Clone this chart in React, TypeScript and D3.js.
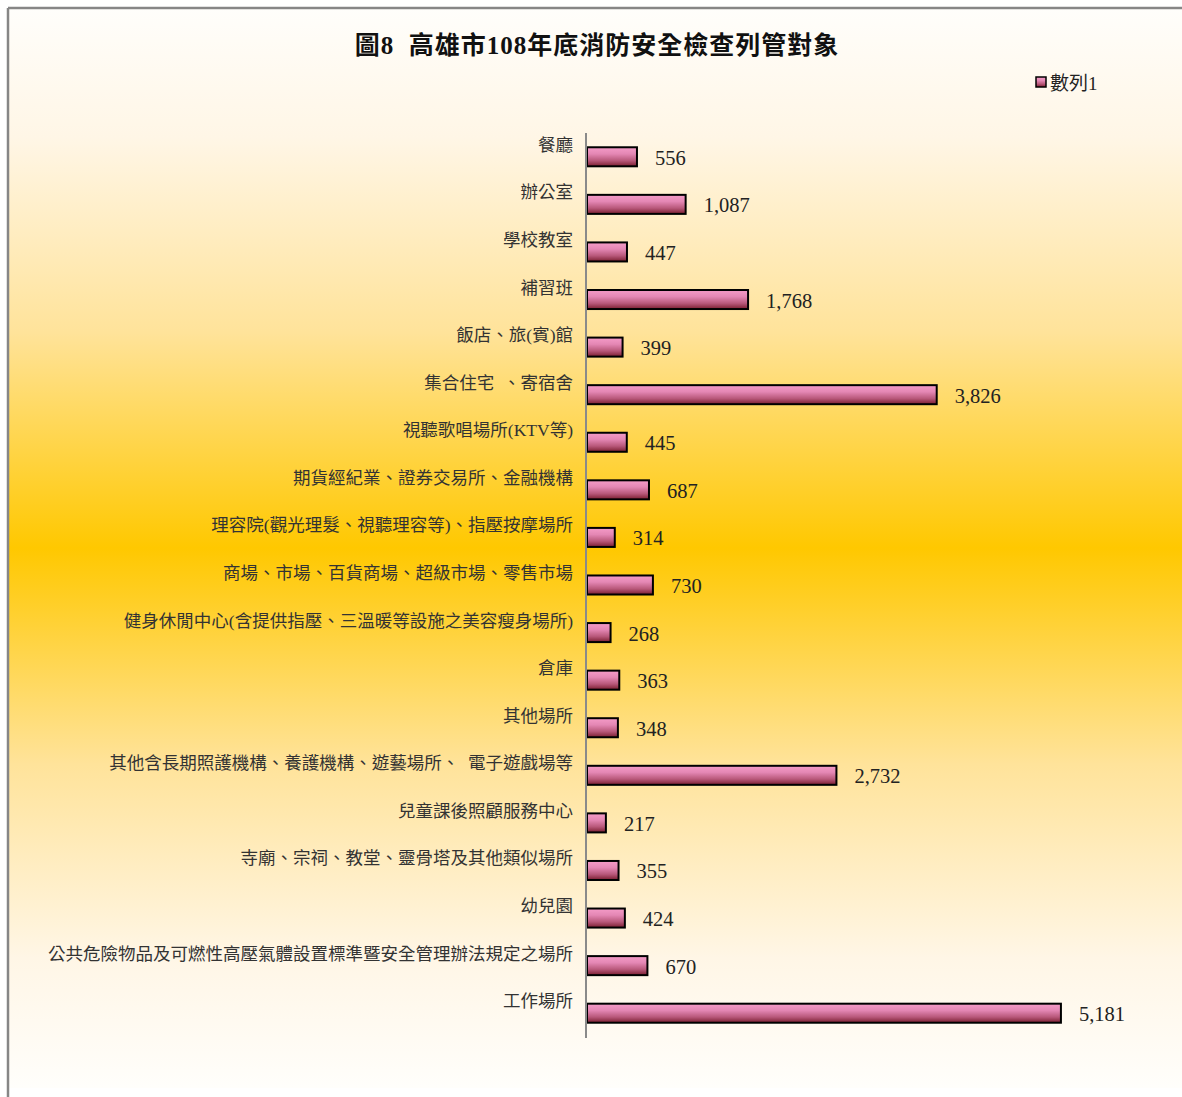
import React from "react";
import * as d3 from "d3";

const categories: string[] = [
  "餐廳",
  "辦公室",
  "學校教室",
  "補習班",
  "飯店、旅(賓)館",
  "集合住宅  、寄宿舍",
  "視聽歌唱場所(KTV等)",
  "期貨經紀業、證券交易所、金融機構",
  "理容院(觀光理髮、視聽理容等)、指壓按摩場所",
  "商場、市場、百貨商場、超級市場、零售市場",
  "健身休閒中心(含提供指壓、三溫暖等設施之美容瘦身場所)",
  "倉庫",
  "其他場所",
  "其他含長期照護機構、養護機構、遊藝場所、  電子遊戲場等",
  "兒童課後照顧服務中心",
  "寺廟、宗祠、教堂、靈骨塔及其他類似場所",
  "幼兒園",
  "公共危險物品及可燃性高壓氣體設置標準暨安全管理辦法規定之場所",
  "工作場所",
];

const values: number[] = [
  556, 1087, 447, 1768, 399, 3826, 445, 687, 314, 730, 268, 363, 348, 2732, 217, 355, 424, 670, 5181,
];

const seriesName = "數列1";
const title = "圖8  高雄市108年底消防安全檢查列管對象";

const W = 1182;
const H = 1097;

export default function App() {
  const x = d3.scaleLinear().domain([0, 6000]).range([586, 1136]);
  const y = d3.scaleBand<string>().domain(categories).range([133, 1037]).paddingInner(0.6).paddingOuter(0.3);
  const fmt = d3.format(",");
  const labelFont = "'Liberation Serif', 'Noto Sans CJK TC', serif";

  return (
    <svg
      width={W}
      height={H}
      style={{ position: "absolute", left: 0, top: 0, display: "block" }}
      xmlns="http://www.w3.org/2000/svg"
    >
      <defs>
        <linearGradient id="bg" x1="0" y1="0" x2="0" y2="1">
          <stop offset="0" stopColor="#fffefb" />
          <stop offset="0.12" stopColor="#fff6e6" />
          <stop offset="0.3" stopColor="#ffe39a" />
          <stop offset="0.5" stopColor="#ffc800" />
          <stop offset="0.7" stopColor="#ffe39a" />
          <stop offset="0.88" stopColor="#fff6e6" />
          <stop offset="1" stopColor="#fffefb" />
        </linearGradient>
        <linearGradient id="bar" x1="0" y1="0" x2="0" y2="1">
          <stop offset="0" stopColor="#f59cc8" />
          <stop offset="0.35" stopColor="#e487b4" />
          <stop offset="0.7" stopColor="#b8587a" />
          <stop offset="1" stopColor="#7a1e30" />
        </linearGradient>
      </defs>
      <rect x={0} y={0} width={W} height={H} fill="#ffffff" />
      <rect x={8} y={8} width={W} height={1080} fill="url(#bg)" />
      <line x1={8} y1={8} x2={W} y2={8} stroke="#868686" strokeWidth={2.5} />
      <line x1={8} y1={8} x2={8} y2={H} stroke="#868686" strokeWidth={2.5} />

      <text
        x={597}
        y={54}
        textAnchor="middle"
        fontSize={25}
        fontWeight="bold"
        letterSpacing={1}
        fontFamily={labelFont}
        fill="#111"
        style={{ whiteSpace: "pre" }}
      >
        {title}
      </text>

      <rect x={1036} y={77} width={10} height={10} fill="url(#bar)" stroke="#000" strokeWidth={1.5} />
      <text x={1050} y={90} fontSize={19} fontFamily={labelFont} fill="#222">
        {seriesName}
      </text>

      {categories.map((c, i) => {
        const yc = (y(c) as number) + y.bandwidth() / 2;
        const v = values[i];
        return (
          <g key={c}>
            <rect
              x={x(0) + 1}
              y={y(c) as number}
              width={x(v) - x(0) - 1}
              height={y.bandwidth()}
              fill="url(#bar)"
              stroke="#000"
              strokeWidth={2}
            />
            <text
              x={573}
              y={yc - 12}
              textAnchor="end"
              dominantBaseline="central"
              fontSize={17.5}
              fontFamily={labelFont}
              fill="#333"
              style={{ whiteSpace: "pre" }}
            >
              {c}
            </text>
            <text
              x={x(v) + 18}
              y={yc + 1}
              dominantBaseline="central"
              fontSize={20.5}
              fontFamily={labelFont}
              fill="#222"
            >
              {fmt(v)}
            </text>
          </g>
        );
      })}

      <line x1={x(0)} y1={133} x2={x(0)} y2={1038} stroke="#8a8a8a" strokeWidth={2} />
    </svg>
  );
}
